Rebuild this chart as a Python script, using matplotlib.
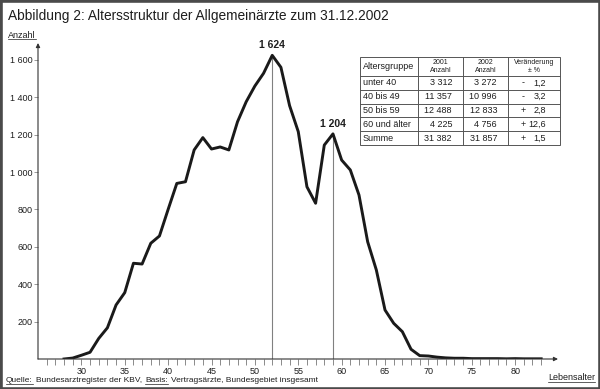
import matplotlib
matplotlib.use('Agg')
import matplotlib.pyplot as plt
from matplotlib.patches import Rectangle
from matplotlib.lines import Line2D

plt.rcParams['font.family'] = ['Liberation Sans', 'DejaVu Sans']

# ---------------- data ----------------
ages = list(range(28, 84))
counts = [0, 5, 20, 36, 110, 167, 289, 355, 512, 508,
          619, 658, 800, 939, 948, 1118, 1184, 1123, 1134, 1118,
          1269, 1376, 1460, 1528, 1624, 1560, 1355, 1216, 921, 833,
          1144, 1204, 1064, 1011, 877, 627, 476, 262, 191, 146,
          52, 18, 16, 10, 6, 4, 4, 2, 2, 2,
          2, 1, 2, 1, 1, 1]
peak_ages = [52, 59]
peak_values = [1624, 1204]
peak_labels = ["1 624", "1 204"]

y_ticks = [200, 400, 600, 800, 1000, 1200, 1400, 1600]
y_tick_labels = ["200", "400", "600", "800", "1 000", "1 200", "1 400", "1 600"]
x_ticks = [30, 35, 40, 45, 50, 55, 60, 65, 70, 75, 80]
x_minor = list(range(26, 84))

groups = ["unter 40", "40 bis 49", "50 bis 59", "60 und älter", "Summe"]
anzahl_2001 = ["3 312", "11 357", "12 488", "4 225", "31 382"]
anzahl_2002 = ["3 272", "10 996", "12 833", "4 756", "31 857"]
change_sign = ["-", "-", "+", "+", "+"]
change_val = ["1,2", "3,2", "2,8", "12,6", "1,5"]

title = "Abbildung 2: Altersstruktur der Allgemeinärzte zum 31.12.2002"

# ---------------- figure ----------------
W, H = 600, 389
fig = plt.figure(figsize=(6, 3.89), dpi=100)
fig.patch.set_facecolor('white')

def fx(x):
    return x / W

def fy(y):
    return 1 - y / H

TXT = '#1e1e1e'
ax = fig.add_axes([fx(38), fy(359), (558 - 38) / W, (359 - 43) / H])
ax.set_xlim(25, 84.94)
ax.set_ylim(0, 1690)
ax.patch.set_alpha(0)

ax.vlines(peak_ages, 0, peak_values, color='#808080', lw=0.8)
ax.plot(ages, counts, color='#1a1a1a', lw=2.1, solid_joinstyle='round')
for a, v, lab in zip(peak_ages, peak_values, peak_labels):
    ax.annotate(lab, xy=(a, v), xytext=(0, 3.5), textcoords='offset points',
                ha='center', va='bottom', fontsize=7.5, fontweight='bold', color=TXT)

for s in ax.spines.values():
    s.set_visible(False)
arrow = dict(arrowstyle='-|>', color='#333333', lw=0.8, mutation_scale=6,
             shrinkA=0, shrinkB=0)
ax.annotate('', xy=(0, 1), xytext=(0, 0), xycoords='axes fraction', arrowprops=arrow)
ax.annotate('', xy=(1, 0), xytext=(0, 0), xycoords='axes fraction', arrowprops=arrow)

ax.set_yticks(y_ticks)
ax.set_yticklabels(y_tick_labels)
ax.set_xticks(x_ticks)
ax.set_xticks(x_minor, minor=True)
ax.tick_params(axis='y', direction='out', length=3, width=0.6, color='#888888',
               labelsize=6.5, pad=1, labelcolor=TXT)
ax.tick_params(axis='x', which='both', direction='out', length=4, width=0.6,
               color='#777777', labelsize=6.5, pad=1.5, labelcolor=TXT)

# ---------------- texts ----------------
fig.text(fx(8), fy(16), title, fontsize=9.9, color=TXT, ha='left', va='center')
t_anz = fig.text(fx(8), fy(35), "Anzahl", fontsize=6.5, color=TXT, ha='left', va='center')
t_leb = fig.text(fx(548), fy(378), "Lebensalter", fontsize=6.5, color=TXT, ha='left', va='center')

fig.canvas.draw()
renderer = fig.canvas.get_renderer()

def underline(t):
    bb = t.get_window_extent(renderer)
    y = bb.y0 + 0.5
    fig.add_artist(Line2D([bb.x0 / W, bb.x1 / W], [y / H, y / H],
                          transform=fig.transFigure, color=TXT, lw=0.5))

underline(t_anz)
underline(t_leb)

# footnote
pieces = [("Quelle:", True), ("Bundesarztregister der KBV,", False),
          ("Basis:", True), ("Vertragsärzte, Bundesgebiet insgesamt", False)]
xcur = 6
for txt, ul in pieces:
    t = fig.text(fx(xcur), fy(381), txt, fontsize=6, color=TXT, ha='left', va='center')
    bb = t.get_window_extent(renderer)
    if ul:
        underline(t)
    xcur = bb.x1 + 3

# ---------------- table ----------------
cols = [360, 418, 463, 508, 560]
rows = [57, 76, 89.8, 103.6, 117.4, 131.2, 145]
LC = '#555555'
fig.add_artist(Rectangle((fx(cols[0]), fy(rows[-1])), (cols[-1] - cols[0]) / W,
                         (rows[-1] - rows[0]) / H, transform=fig.transFigure,
                         facecolor='white', edgecolor=LC, lw=0.7, zorder=3))
for c in cols[1:-1]:
    fig.add_artist(Line2D([fx(c), fx(c)], [fy(rows[0]), fy(rows[-1])],
                          transform=fig.transFigure, color=LC, lw=0.7, zorder=4))
for r in rows[1:-1]:
    fig.add_artist(Line2D([fx(cols[0]), fx(cols[-1])], [fy(r), fy(r)],
                          transform=fig.transFigure, color=LC, lw=0.7, zorder=4))

hy = (rows[0] + rows[1]) / 2
fig.text(fx(363), fy(hy), "Altersgruppe", fontsize=6.5, color=TXT, ha='left', va='center', zorder=5)
fig.text(fx((cols[1] + cols[2]) / 2), fy(hy), "2001\nAnzahl", fontsize=5, color=TXT,
         ha='center', va='center', linespacing=1.1, zorder=5)
fig.text(fx((cols[2] + cols[3]) / 2), fy(hy), "2002\nAnzahl", fontsize=5, color=TXT,
         ha='center', va='center', linespacing=1.1, zorder=5)
fig.text(fx((cols[3] + cols[4]) / 2), fy(hy), "Veränderung\n± %", fontsize=5, color=TXT,
         ha='center', va='center', linespacing=1.1, zorder=5)

for i, g in enumerate(groups):
    yc = (rows[i + 1] + rows[i + 2]) / 2
    fig.text(fx(363), fy(yc), g, fontsize=6.5, color=TXT, ha='left', va='center', zorder=5)
    fig.text(fx(452), fy(yc), anzahl_2001[i], fontsize=6.5, color=TXT, ha='right', va='center', zorder=5)
    fig.text(fx(497), fy(yc), anzahl_2002[i], fontsize=6.5, color=TXT, ha='right', va='center', zorder=5)
    fig.text(fx(523), fy(yc), change_sign[i], fontsize=6.5, color=TXT, ha='center', va='center', zorder=5)
    fig.text(fx(546), fy(yc), change_val[i], fontsize=6.5, color=TXT, ha='right', va='center', zorder=5)

# frame
fig.add_artist(Rectangle((0.5 / W, 0.5 / H), 1 - 1 / W, 1 - 1 / H, transform=fig.transFigure,
                         facecolor='none', edgecolor='#4a4a4a', lw=2.6, zorder=10))

fig.savefig('out.png', dpi=100, facecolor='white')
